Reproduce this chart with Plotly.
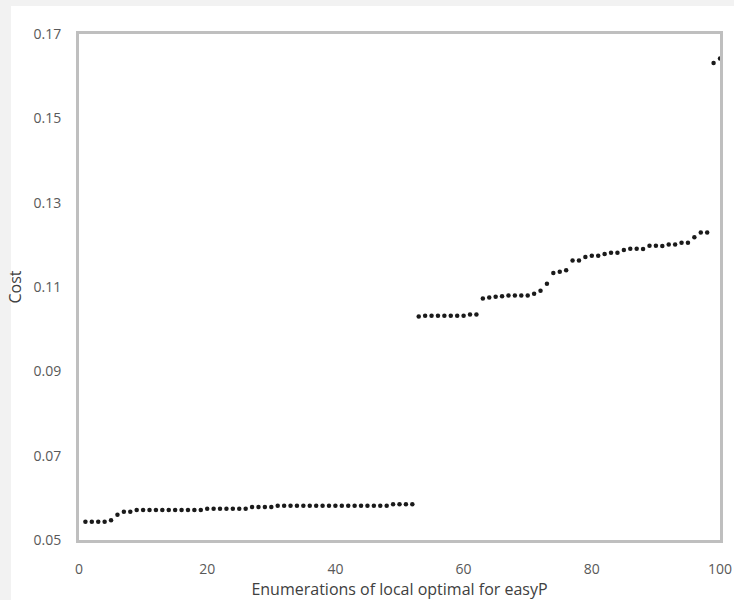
import plotly.graph_objects as go

# Enumeration index
enumeration = list(range(1, 101))

# Cost values (sorted local optima)
cost_low = [
    0.0543, 0.0543, 0.0543, 0.0543, 0.0547, 0.0560, 0.0567, 0.0567, 0.0571, 0.0571,
    0.0571, 0.0571, 0.0571, 0.0571, 0.0571, 0.0571, 0.0571, 0.0571, 0.0571, 0.0574,
    0.0574, 0.0574, 0.0574, 0.0574, 0.0574, 0.0574, 0.0578, 0.0578, 0.0578, 0.0578,
    0.0581, 0.0581, 0.0581, 0.0581, 0.0581, 0.0581, 0.0581, 0.0581, 0.0581, 0.0581,
    0.0581, 0.0581, 0.0581, 0.0581, 0.0581, 0.0581, 0.0581, 0.0581, 0.0585, 0.0585,
    0.0585, 0.0585,
]
cost_high = [
    0.1030, 0.1032, 0.1032, 0.1032, 0.1032, 0.1032, 0.1032, 0.1032, 0.1035, 0.1035,
    0.1073, 0.1075, 0.1077, 0.1078, 0.1080, 0.1080, 0.1080, 0.1080, 0.1084, 0.1091,
    0.1108, 0.1133, 0.1136, 0.1140, 0.1163, 0.1163, 0.1171, 0.1174, 0.1174, 0.1178,
    0.1181, 0.1181, 0.1188, 0.1191, 0.1191, 0.1190, 0.1198, 0.1198, 0.1197, 0.1201,
    0.1201, 0.1205, 0.1205, 0.1218, 0.1229, 0.1229, 0.1631, 0.1642,
]
cost = cost_low + cost_high

x_ticks = [0, 20, 40, 60, 80, 100]
y_ticks = [0.05, 0.07, 0.09, 0.11, 0.13, 0.15, 0.17]
y_tick_text = ["0.05", "0.07", "0.09", "0.11", "0.13", "0.15", "0.17"]

x_title = "Enumerations of local optimal for easyP"
y_title = "Cost"

W, H = 734, 600
L, R, T, B = 79, 14, 34, 60
pw, ph = W - L - R, H - T - B

fig = go.Figure()
fig.add_trace(go.Scatter(
    x=enumeration, y=cost, mode="markers",
    marker=dict(color="#1a1a1a", size=4.5, symbol="circle"),
    cliponaxis=False, showlegend=False,
))

# white card over light-gray page
fig.add_shape(type="rect", xref="paper", yref="paper", layer="below",
              x0=(11 - L) / pw, x1=(W - L) / pw + 0.01,
              y0=-B / ph - 0.01, y1=(T + ph - 6) / ph,
              fillcolor="white", line=dict(width=0))

font_fam = "Open Sans, Noto Sans, sans-serif"
fig.update_layout(
    width=W, height=H,
    margin=dict(l=L, r=R, t=T, b=B, autoexpand=False),
    paper_bgcolor="#f2f2f2",
    plot_bgcolor="white",
    font=dict(family=font_fam, size=14, color="#595959"),
    xaxis=dict(
        range=[0, 100], tickvals=x_ticks, showgrid=False, zeroline=False,
        showline=True, mirror=True, linecolor="#bfbfbf", linewidth=3,
        ticks="", ticklabelstandoff=14, automargin=False,
        tickfont=dict(size=14, color="#595959"),
        title=dict(text=x_title, font=dict(size=16, color="#404040"), standoff=10),
    ),
    yaxis=dict(
        range=[0.05, 0.17], tickvals=y_ticks, ticktext=y_tick_text,
        showgrid=False, zeroline=False, automargin=False,
        showline=True, mirror=True, linecolor="#bfbfbf", linewidth=3,
        ticks="", ticklabelstandoff=12,
        tickfont=dict(size=14, color="#595959"),
        title=dict(text=y_title, font=dict(size=16, color="#404040"), standoff=8),
    ),
)

fig.write_html("out.html", config={"displayModeBar": False},
               post_script="document.body.style.margin='0';document.body.style.overflow='hidden';")
